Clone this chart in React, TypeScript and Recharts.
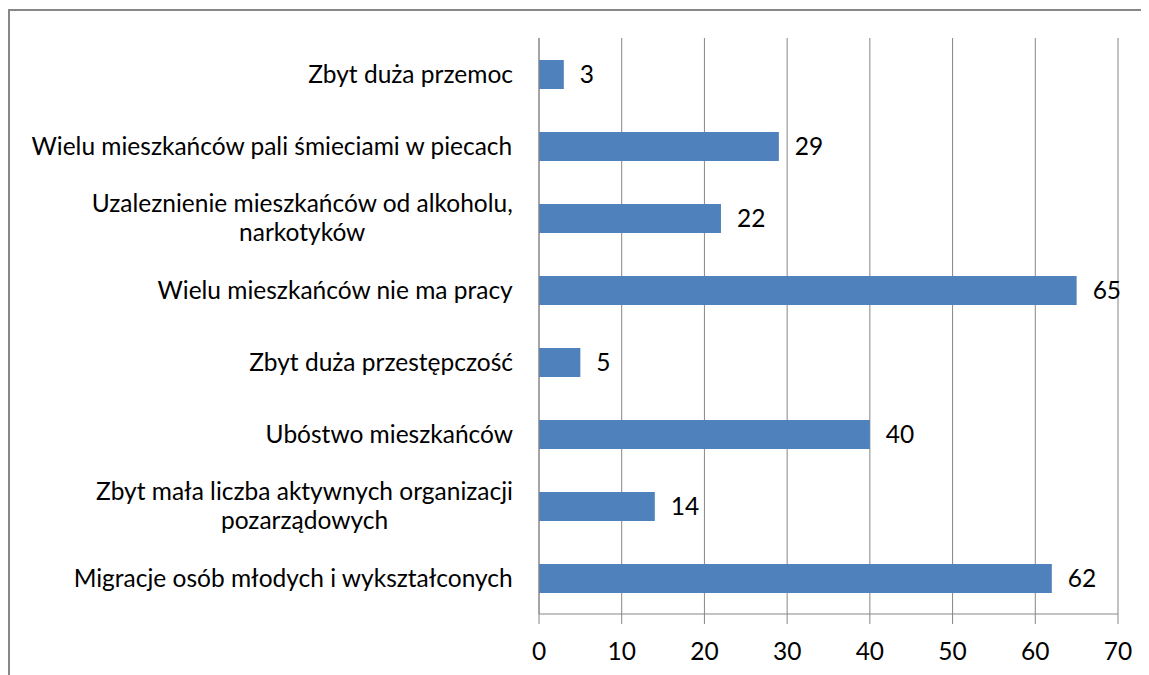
import React from 'react';
import { BarChart, Bar, XAxis, YAxis, CartesianGrid, LabelList } from 'recharts';

const categories = [
  'Zbyt duża przemoc',
  'Wielu mieszkańców pali śmieciami w piecach',
  'Uzaleznienie mieszkańców od alkoholu,\nnarkotyków',
  'Wielu mieszkańców nie ma pracy',
  'Zbyt duża przestępczość',
  'Ubóstwo mieszkańców',
  'Zbyt mała liczba aktywnych organizacji\npozarządowych',
  'Migracje osób młodych i wykształconych',
];
const values = [3, 29, 22, 65, 5, 40, 14, 62];
const xTicks = [0, 10, 20, 30, 40, 50, 60, 70];
const boundaryTicks = [0, 1, 2, 3, 4, 5, 6, 7, 8];

const data = categories.map((name, i) => ({ name, value: values[i] }));

const FONT = 'Lato';
const FS = 24.5;
const LINE_H = 29;
const GRID = '#868686';
const TEXT = '#000';

let ctx: CanvasRenderingContext2D | null = null;
function measure(t: string): number {
  if (!ctx) {
    ctx = document.createElement('canvas').getContext('2d');
  }
  if (!ctx) return t.length * FS * 0.5;
  ctx.font = `${FS}px ${FONT}`;
  return ctx.measureText(t).width;
}

const CatTick = (props: any) => {
  const { x, y, payload } = props;
  const lines = String(payload.value).split('\n');
  const w = Math.max(...lines.map(measure));
  const cx = x - w / 2;
  const y0 = y - ((lines.length - 1) * LINE_H) / 2;
  return (
    <text textAnchor="middle" fontSize={FS} fontFamily={FONT} fill={TEXT}>
      {lines.map((l, i) => (
        <tspan key={i} x={cx} y={y0 + i * LINE_H} dy="0.36em">
          {l}
        </tspan>
      ))}
    </text>
  );
};

export default function App() {
  return (
    <div style={{ position: 'relative', width: 1141, height: 667, overflow: 'hidden' }}>
      <div
        style={{
          position: 'absolute',
          left: 0,
          top: 1,
          width: 1200,
          height: 700,
          borderLeft: '2px solid #878787',
          borderTop: '2px solid #878787',
          boxSizing: 'border-box',
        }}
      />
      <div style={{ position: 'absolute', left: 0, top: 0 }}>
        <BarChart
          width={1141}
          height={667}
          data={data}
          layout="vertical"
          margin={{ top: 30, right: 31, bottom: 13, left: 0 }}
          style={{ fontFamily: FONT }}
        >
          <CartesianGrid horizontal={false} stroke={GRID} yAxisId="cat" />
          <YAxis
            yAxisId="ticks"
            type="number"
            domain={[0, 8]}
            ticks={boundaryTicks}
            tick={false}
            axisLine={false}
            tickLine={{ stroke: GRID }}
            tickSize={9}
            width={1}
            allowDataOverflow
          />
          <YAxis
            yAxisId="cat"
            type="category"
            dataKey="name"
            width={530}
            axisLine={{ stroke: GRID }}
            tickLine={false}
            tickSize={9}
            tickMargin={17}
            tick={<CatTick />}
            interval={0}
          />
          <XAxis
            type="number"
            domain={[0, 70]}
            ticks={xTicks}
            height={48}
            tickSize={10}
            tickMargin={19}
            axisLine={{ stroke: GRID }}
            tickLine={{ stroke: GRID }}
            tick={{ fill: TEXT, fontSize: FS, fontFamily: FONT }}
          />
          <Bar dataKey="value" yAxisId="cat" fill="#4F81BD" barSize={29} isAnimationActive={false}>
            <LabelList
              dataKey="value"
              position="right"
              offset={16}
              fill={TEXT}
              fontSize={FS}
              fontFamily={FONT}
            />
          </Bar>
        </BarChart>
      </div>
    </div>
  );
}
